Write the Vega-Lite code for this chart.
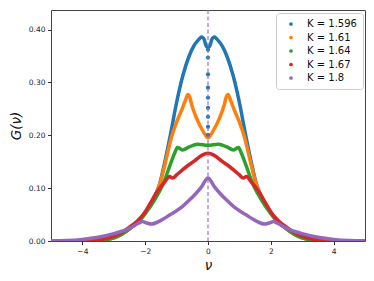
{
  "$schema": "https://vega.github.io/schema/vega-lite/v6.json",
  "autosize": "none",
  "width": 314,
  "height": 231,
  "padding": {"left": 51, "top": 10, "right": 9, "bottom": 40},
  "background": "white",
  "config": {
    "font": "DejaVu Sans",
    "view": {"stroke": "#444", "strokeWidth": 1},
    "axis": {"grid": false, "domain": false, "tickColor": "#333", "tickSize": 3.5, "labelPadding": 2.5, "labelFontSize": 7.5, "labelColor": "#222", "titleColor": "#111", "titleFontWeight": "normal"}
  },
  "datasets": {
    "curves": [
      {"K": "K = 1.596", "nu": -5, "G": 0.0},
      {"K": "K = 1.596", "nu": -4, "G": 0.0},
      {"K": "K = 1.596", "nu": -3.5, "G": 0.001},
      {"K": "K = 1.596", "nu": -3, "G": 0.006},
      {"K": "K = 1.596", "nu": -2.75, "G": 0.013},
      {"K": "K = 1.596", "nu": -2.5, "G": 0.023},
      {"K": "K = 1.596", "nu": -2.25, "G": 0.035},
      {"K": "K = 1.596", "nu": -2, "G": 0.052},
      {"K": "K = 1.596", "nu": -1.75, "G": 0.078},
      {"K": "K = 1.596", "nu": -1.54, "G": 0.108},
      {"K": "K = 1.596", "nu": -1.4, "G": 0.143},
      {"K": "K = 1.596", "nu": -1.2, "G": 0.2},
      {"K": "K = 1.596", "nu": -1.0, "G": 0.262},
      {"K": "K = 1.596", "nu": -0.8, "G": 0.313},
      {"K": "K = 1.596", "nu": -0.6, "G": 0.35},
      {"K": "K = 1.596", "nu": -0.45, "G": 0.369},
      {"K": "K = 1.596", "nu": -0.3, "G": 0.381},
      {"K": "K = 1.596", "nu": -0.2, "G": 0.386},
      {"K": "K = 1.596", "nu": -0.12, "G": 0.381},
      {"K": "K = 1.596", "nu": -0.05, "G": 0.368},
      {"K": "K = 1.596", "nu": 0.05, "G": 0.368},
      {"K": "K = 1.596", "nu": 0.12, "G": 0.381},
      {"K": "K = 1.596", "nu": 0.2, "G": 0.386},
      {"K": "K = 1.596", "nu": 0.3, "G": 0.381},
      {"K": "K = 1.596", "nu": 0.45, "G": 0.369},
      {"K": "K = 1.596", "nu": 0.6, "G": 0.35},
      {"K": "K = 1.596", "nu": 0.8, "G": 0.313},
      {"K": "K = 1.596", "nu": 1.0, "G": 0.262},
      {"K": "K = 1.596", "nu": 1.2, "G": 0.2},
      {"K": "K = 1.596", "nu": 1.4, "G": 0.143},
      {"K": "K = 1.596", "nu": 1.54, "G": 0.108},
      {"K": "K = 1.596", "nu": 1.75, "G": 0.078},
      {"K": "K = 1.596", "nu": 2, "G": 0.052},
      {"K": "K = 1.596", "nu": 2.25, "G": 0.035},
      {"K": "K = 1.596", "nu": 2.5, "G": 0.023},
      {"K": "K = 1.596", "nu": 2.75, "G": 0.013},
      {"K": "K = 1.596", "nu": 3, "G": 0.006},
      {"K": "K = 1.596", "nu": 3.5, "G": 0.001},
      {"K": "K = 1.596", "nu": 4, "G": 0.0},
      {"K": "K = 1.596", "nu": 5, "G": 0.0},

      {"K": "K = 1.61", "nu": -5, "G": 0.0},
      {"K": "K = 1.61", "nu": -4, "G": 0.0},
      {"K": "K = 1.61", "nu": -3.5, "G": 0.001},
      {"K": "K = 1.61", "nu": -3, "G": 0.006},
      {"K": "K = 1.61", "nu": -2.75, "G": 0.013},
      {"K": "K = 1.61", "nu": -2.5, "G": 0.023},
      {"K": "K = 1.61", "nu": -2.25, "G": 0.035},
      {"K": "K = 1.61", "nu": -2, "G": 0.052},
      {"K": "K = 1.61", "nu": -1.75, "G": 0.078},
      {"K": "K = 1.61", "nu": -1.54, "G": 0.107},
      {"K": "K = 1.61", "nu": -1.35, "G": 0.15},
      {"K": "K = 1.61", "nu": -1.17, "G": 0.195},
      {"K": "K = 1.61", "nu": -1.0, "G": 0.225},
      {"K": "K = 1.61", "nu": -0.85, "G": 0.246},
      {"K": "K = 1.61", "nu": -0.72, "G": 0.266},
      {"K": "K = 1.61", "nu": -0.64, "G": 0.277},
      {"K": "K = 1.61", "nu": -0.58, "G": 0.272},
      {"K": "K = 1.61", "nu": -0.52, "G": 0.258},
      {"K": "K = 1.61", "nu": -0.37, "G": 0.233},
      {"K": "K = 1.61", "nu": -0.16, "G": 0.208},
      {"K": "K = 1.61", "nu": 0, "G": 0.195},
      {"K": "K = 1.61", "nu": 0.16, "G": 0.208},
      {"K": "K = 1.61", "nu": 0.37, "G": 0.233},
      {"K": "K = 1.61", "nu": 0.52, "G": 0.258},
      {"K": "K = 1.61", "nu": 0.58, "G": 0.272},
      {"K": "K = 1.61", "nu": 0.64, "G": 0.277},
      {"K": "K = 1.61", "nu": 0.72, "G": 0.266},
      {"K": "K = 1.61", "nu": 0.85, "G": 0.246},
      {"K": "K = 1.61", "nu": 1.0, "G": 0.225},
      {"K": "K = 1.61", "nu": 1.17, "G": 0.195},
      {"K": "K = 1.61", "nu": 1.35, "G": 0.15},
      {"K": "K = 1.61", "nu": 1.54, "G": 0.107},
      {"K": "K = 1.61", "nu": 1.75, "G": 0.078},
      {"K": "K = 1.61", "nu": 2, "G": 0.052},
      {"K": "K = 1.61", "nu": 2.25, "G": 0.035},
      {"K": "K = 1.61", "nu": 2.5, "G": 0.023},
      {"K": "K = 1.61", "nu": 2.75, "G": 0.013},
      {"K": "K = 1.61", "nu": 3, "G": 0.006},
      {"K": "K = 1.61", "nu": 3.5, "G": 0.001},
      {"K": "K = 1.61", "nu": 4, "G": 0.0},
      {"K": "K = 1.61", "nu": 5, "G": 0.0},

      {"K": "K = 1.64", "nu": -5, "G": 0.0},
      {"K": "K = 1.64", "nu": -4, "G": 0.0},
      {"K": "K = 1.64", "nu": -3.5, "G": 0.001},
      {"K": "K = 1.64", "nu": -3, "G": 0.006},
      {"K": "K = 1.64", "nu": -2.75, "G": 0.013},
      {"K": "K = 1.64", "nu": -2.5, "G": 0.023},
      {"K": "K = 1.64", "nu": -2.25, "G": 0.035},
      {"K": "K = 1.64", "nu": -2, "G": 0.052},
      {"K": "K = 1.64", "nu": -1.71, "G": 0.077},
      {"K": "K = 1.64", "nu": -1.4, "G": 0.112},
      {"K": "K = 1.64", "nu": -1.2, "G": 0.145},
      {"K": "K = 1.64", "nu": -1.05, "G": 0.168},
      {"K": "K = 1.64", "nu": -0.97, "G": 0.177},
      {"K": "K = 1.64", "nu": -0.9, "G": 0.175},
      {"K": "K = 1.64", "nu": -0.81, "G": 0.172},
      {"K": "K = 1.64", "nu": -0.6, "G": 0.178},
      {"K": "K = 1.64", "nu": -0.33, "G": 0.183},
      {"K": "K = 1.64", "nu": 0, "G": 0.181},
      {"K": "K = 1.64", "nu": 0.33, "G": 0.183},
      {"K": "K = 1.64", "nu": 0.6, "G": 0.178},
      {"K": "K = 1.64", "nu": 0.81, "G": 0.172},
      {"K": "K = 1.64", "nu": 0.9, "G": 0.175},
      {"K": "K = 1.64", "nu": 0.97, "G": 0.177},
      {"K": "K = 1.64", "nu": 1.05, "G": 0.168},
      {"K": "K = 1.64", "nu": 1.2, "G": 0.145},
      {"K": "K = 1.64", "nu": 1.4, "G": 0.112},
      {"K": "K = 1.64", "nu": 1.71, "G": 0.077},
      {"K": "K = 1.64", "nu": 2, "G": 0.052},
      {"K": "K = 1.64", "nu": 2.25, "G": 0.035},
      {"K": "K = 1.64", "nu": 2.5, "G": 0.023},
      {"K": "K = 1.64", "nu": 2.75, "G": 0.013},
      {"K": "K = 1.64", "nu": 3, "G": 0.006},
      {"K": "K = 1.64", "nu": 3.5, "G": 0.001},
      {"K": "K = 1.64", "nu": 4, "G": 0.0},
      {"K": "K = 1.64", "nu": 5, "G": 0.0},

      {"K": "K = 1.67", "nu": -5, "G": 0.0},
      {"K": "K = 1.67", "nu": -4, "G": 0.0005},
      {"K": "K = 1.67", "nu": -3.5, "G": 0.002},
      {"K": "K = 1.67", "nu": -3, "G": 0.009},
      {"K": "K = 1.67", "nu": -2.75, "G": 0.016},
      {"K": "K = 1.67", "nu": -2.5, "G": 0.026},
      {"K": "K = 1.67", "nu": -2.25, "G": 0.038},
      {"K": "K = 1.67", "nu": -2.05, "G": 0.051},
      {"K": "K = 1.67", "nu": -1.85, "G": 0.07},
      {"K": "K = 1.67", "nu": -1.61, "G": 0.094},
      {"K": "K = 1.67", "nu": -1.4, "G": 0.11},
      {"K": "K = 1.67", "nu": -1.22, "G": 0.122},
      {"K": "K = 1.67", "nu": -1.12, "G": 0.119},
      {"K": "K = 1.67", "nu": -1.0, "G": 0.125},
      {"K": "K = 1.67", "nu": -0.7, "G": 0.14},
      {"K": "K = 1.67", "nu": -0.44, "G": 0.151},
      {"K": "K = 1.67", "nu": -0.2, "G": 0.162},
      {"K": "K = 1.67", "nu": 0, "G": 0.166},
      {"K": "K = 1.67", "nu": 0.2, "G": 0.162},
      {"K": "K = 1.67", "nu": 0.44, "G": 0.151},
      {"K": "K = 1.67", "nu": 0.7, "G": 0.14},
      {"K": "K = 1.67", "nu": 1.0, "G": 0.125},
      {"K": "K = 1.67", "nu": 1.12, "G": 0.119},
      {"K": "K = 1.67", "nu": 1.22, "G": 0.122},
      {"K": "K = 1.67", "nu": 1.4, "G": 0.11},
      {"K": "K = 1.67", "nu": 1.61, "G": 0.094},
      {"K": "K = 1.67", "nu": 1.85, "G": 0.07},
      {"K": "K = 1.67", "nu": 2.05, "G": 0.051},
      {"K": "K = 1.67", "nu": 2.25, "G": 0.038},
      {"K": "K = 1.67", "nu": 2.5, "G": 0.026},
      {"K": "K = 1.67", "nu": 2.75, "G": 0.016},
      {"K": "K = 1.67", "nu": 3, "G": 0.009},
      {"K": "K = 1.67", "nu": 3.5, "G": 0.002},
      {"K": "K = 1.67", "nu": 4, "G": 0.0005},
      {"K": "K = 1.67", "nu": 5, "G": 0.0},

      {"K": "K = 1.8", "nu": -5, "G": 0.0005},
      {"K": "K = 1.8", "nu": -4.5, "G": 0.001},
      {"K": "K = 1.8", "nu": -4, "G": 0.003},
      {"K": "K = 1.8", "nu": -3.5, "G": 0.007},
      {"K": "K = 1.8", "nu": -3, "G": 0.014},
      {"K": "K = 1.8", "nu": -2.5, "G": 0.024},
      {"K": "K = 1.8", "nu": -2.2, "G": 0.034},
      {"K": "K = 1.8", "nu": -2.09, "G": 0.037},
      {"K": "K = 1.8", "nu": -1.95, "G": 0.034},
      {"K": "K = 1.8", "nu": -1.8, "G": 0.032},
      {"K": "K = 1.8", "nu": -1.5, "G": 0.039},
      {"K": "K = 1.8", "nu": -1.2, "G": 0.05},
      {"K": "K = 1.8", "nu": -0.86, "G": 0.063},
      {"K": "K = 1.8", "nu": -0.6, "G": 0.077},
      {"K": "K = 1.8", "nu": -0.4, "G": 0.089},
      {"K": "K = 1.8", "nu": -0.2, "G": 0.103},
      {"K": "K = 1.8", "nu": 0, "G": 0.119},
      {"K": "K = 1.8", "nu": 0.2, "G": 0.103},
      {"K": "K = 1.8", "nu": 0.4, "G": 0.089},
      {"K": "K = 1.8", "nu": 0.6, "G": 0.077},
      {"K": "K = 1.8", "nu": 0.86, "G": 0.063},
      {"K": "K = 1.8", "nu": 1.2, "G": 0.05},
      {"K": "K = 1.8", "nu": 1.5, "G": 0.039},
      {"K": "K = 1.8", "nu": 1.8, "G": 0.032},
      {"K": "K = 1.8", "nu": 1.95, "G": 0.034},
      {"K": "K = 1.8", "nu": 2.09, "G": 0.037},
      {"K": "K = 1.8", "nu": 2.2, "G": 0.034},
      {"K": "K = 1.8", "nu": 2.5, "G": 0.024},
      {"K": "K = 1.8", "nu": 3, "G": 0.014},
      {"K": "K = 1.8", "nu": 3.5, "G": 0.007},
      {"K": "K = 1.8", "nu": 4, "G": 0.003},
      {"K": "K = 1.8", "nu": 4.5, "G": 0.001},
      {"K": "K = 1.8", "nu": 5, "G": 0.0005}
    ],
    "dots": [
      {"nu": 0, "G": 0.362},
      {"nu": 0, "G": 0.347},
      {"nu": 0, "G": 0.315},
      {"nu": 0, "G": 0.29},
      {"nu": 0, "G": 0.271},
      {"nu": 0, "G": 0.252},
      {"nu": 0, "G": 0.235},
      {"nu": 0, "G": 0.216},
      {"nu": 0, "G": 0.201}
    ],
    "vline": [{"nu": 0}]
  },
  "layer": [
    {
      "data": {"name": "curves"},
      "mark": {"type": "line", "strokeWidth": 3.5, "strokeCap": "round", "strokeJoin": "round", "clip": true, "interpolate": "monotone"},
      "encoding": {
        "x": {"field": "nu", "type": "quantitative", "scale": {"domain": [-5, 5], "nice": false}, "axis": {"values": [-4, -2, 0, 2, 4], "labelExpr": "replace(format(datum.value, 'd'), '-', '\u2212')", "title": "\u03bd", "titleFontSize": 13.5, "titleFontStyle": "italic", "titlePadding": 4}},
        "y": {"field": "G", "type": "quantitative", "scale": {"domain": [0, 0.437], "nice": false}, "axis": {"values": [0, 0.05, 0.1, 0.15, 0.2, 0.25, 0.3, 0.35, 0.4], "format": ".2f", "title": "G(\u03bd)", "titleFontSize": 13.5, "titleFontStyle": "italic", "titlePadding": 5}},
        "color": {"field": "K", "type": "nominal", "scale": {"domain": ["K = 1.596", "K = 1.61", "K = 1.64", "K = 1.67", "K = 1.8"], "range": ["#1f77b4", "#ff7f0e", "#2ca02c", "#d62728", "#9467bd"]},
          "legend": {"title": null, "orient": "none", "legendX": 225, "legendY": 3, "symbolType": "circle", "symbolSize": 14, "symbolStrokeWidth": 0, "labelFontSize": 10, "labelColor": "#111", "rowPadding": 3.5, "padding": 6, "strokeColor": "#ccc", "cornerRadius": 3, "fillColor": "white", "symbolOffset": 4, "labelOffset": 11,
            "encode": {"symbols": {"update": {"fill": {"scale": "color", "field": "value"}, "strokeWidth": {"value": 0}}}}}},
        "order": {"field": "nu", "type": "quantitative"}
      }
    },
    {
      "data": {"name": "dots"},
      "mark": {"type": "circle", "size": 18, "color": "#1f77b4", "opacity": 1},
      "encoding": {"x": {"field": "nu", "type": "quantitative"}, "y": {"field": "G", "type": "quantitative"}}
    },
    {
      "data": {"name": "vline"},
      "mark": {"type": "rule", "color": "#9467bd", "strokeDash": [4, 2.5], "strokeWidth": 1.3, "opacity": 0.85},
      "encoding": {"x": {"field": "nu", "type": "quantitative"}}
    }
  ]
}
